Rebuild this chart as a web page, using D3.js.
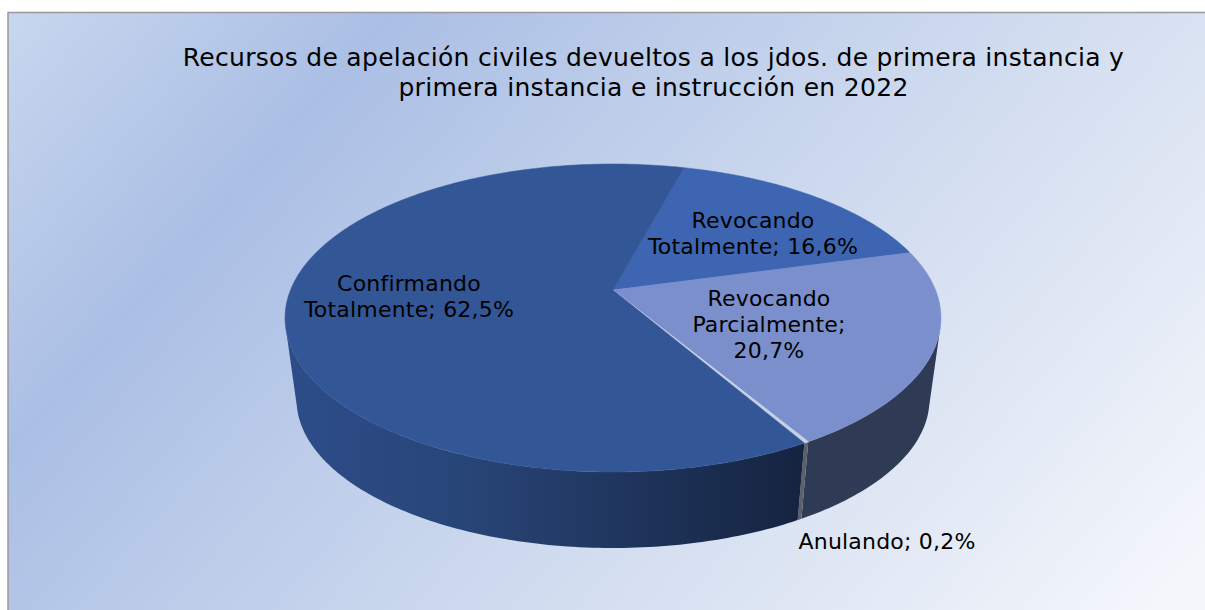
<!DOCTYPE html>
<html>
<head>
<meta charset="utf-8">
<script src="https://cdnjs.cloudflare.com/ajax/libs/d3/7.8.5/d3.min.js"></script>
<style>
  html, body { margin: 0; padding: 0; background: #fff; }
  text { font-family: "DejaVu Sans", Verdana, sans-serif; fill: #000; }
</style>
</head>
<body>
<svg id="chart" width="1205" height="610" style="display:block"></svg>
<script>
// Chart data, clockwise from the first slice
var categories = ["Revocando Totalmente", "Revocando Parcialmente", "Anulando", "Confirmando Totalmente"];
var shares = [16.6, 20.7, 0.2, 62.5];
var valueLabels = ["16,6%", "20,7%", "0,2%", "62,5%"];
var titleLines = [
  "Recursos de apelación civiles devueltos a los jdos. de primera instancia y",
  "primera instancia e instrucción en 2022"
];

var topColors = ["#3d65b1", "#7a8fcb", "#c5cfe6", "#335696"];

var svg = d3.select("#chart");
var defs = svg.append("defs");

// Background
var bg = defs.append("linearGradient").attr("id", "bg")
  .attr("gradientUnits", "userSpaceOnUse")
  .attr("x1", 130).attr("y1", -110).attr("x2", 1080).attr("y2", 720);
bg.append("stop").attr("offset", 0).attr("stop-color", "#c6d6ee");
bg.append("stop").attr("offset", 0.22).attr("stop-color", "#abbfe5");
bg.append("stop").attr("offset", 0.5).attr("stop-color", "#c6d4ec");
bg.append("stop").attr("offset", 0.8).attr("stop-color", "#e2e9f5");
bg.append("stop").attr("offset", 1).attr("stop-color", "#f5f7fc");

svg.append("rect")
  .attr("x", 8).attr("y", 12.5)
  .attr("width", 1210).attr("height", 610)
  .attr("fill", "url(#bg)")
  .attr("stroke", "#999")
  .attr("stroke-width", 1.5);

// Side wall colours
var wallLeft = defs.append("linearGradient").attr("id", "wallMain")
  .attr("gradientUnits", "userSpaceOnUse")
  .attr("x1", 285).attr("y1", 0).attr("x2", 806).attr("y2", 0);
wallLeft.append("stop").attr("offset", 0).attr("stop-color", "#2d4d8a");
wallLeft.append("stop").attr("offset", 0.35).attr("stop-color", "#284577");
wallLeft.append("stop").attr("offset", 1).attr("stop-color", "#15233f");

// Tilted-disc projection: circle angle -> screen, nearer edge drawn larger
var cx = 613, cy = 290, rad = 322.5, radY = 148.9, persp = 0.1818;
var depth = 76, shrink = 0.965;

var project = function(angle, lower) {
  var u = Math.sin(angle), v = -Math.cos(angle);
  var w = 1 - persp * v;
  var k = lower ? shrink : 1;
  return [
    cx + k * rad * u / w,
    cy + k * radY * v / w + (lower ? depth + (1 - shrink) * 182 : 0)
  ];
};

var rot = 15 * Math.PI / 180;
var pie = d3.pie().sort(null).startAngle(rot).endAngle(rot + 2 * Math.PI);
var slices = pie(shares);

var arcPoints = function(a0, a1, lower) {
  var n = Math.max(2, Math.ceil(Math.abs(a1 - a0) * 60));
  return d3.range(n + 1).map(function(i) {
    return project(a0 + (a1 - a0) * i / n, lower);
  });
};

var line = d3.line();

// Walls first, only the part facing the viewer
var wallFrom = 103 * Math.PI / 180, wallTo = 257 * Math.PI / 180;
var wallColors = [null, "#2f3a55", "#5b6069", "url(#wallMain)"];
slices.forEach(function(s, i) {
  var a0 = Math.max(s.startAngle, wallFrom), a1 = Math.min(s.endAngle, wallTo);
  if (a1 <= a0) return;
  var pts = arcPoints(a0, a1, false).concat(arcPoints(a1, a0, true));
  svg.append("path")
    .attr("d", line(pts) + "Z")
    .attr("fill", wallColors[i]);
});

// Top face
slices.forEach(function(s, i) {
  var pts = [[cx, cy]].concat(arcPoints(s.startAngle, s.endAngle, false));
  svg.append("path")
    .attr("d", line(pts) + "Z")
    .attr("fill", topColors[i])
    .attr("stroke", topColors[i])
    .attr("stroke-width", i == 2 ? 1 : 0.5);
});

// Title
svg.selectAll("text.title").data(titleLines).enter().append("text")
  .attr("class", "title")
  .attr("x", 653.5)
  .attr("y", function(d, i) { return 66 + i * 30; })
  .attr("text-anchor", "middle")
  .attr("font-size", 25)
  .attr("letter-spacing", 0.3)
  .text(function(d) { return d; });

// Data labels, wrapped the way the original wraps them
var labelLines = [
  ["Revocando", "Totalmente; " + valueLabels[0]],
  ["Revocando", "Parcialmente;", valueLabels[1]],
  [categories[2] + "; " + valueLabels[2]],
  ["Confirmando", "Totalmente; " + valueLabels[3]]
];
var labelPos = [[753, 228], [769, 306], [887, 549], [409, 291]];
labelLines.forEach(function(lines, i) {
  svg.append("text")
    .attr("x", labelPos[i][0])
    .attr("y", labelPos[i][1])
    .attr("text-anchor", "middle")
    .attr("font-size", 22)
    .attr("letter-spacing", 0.2)
    .selectAll("tspan").data(lines).enter().append("tspan")
    .attr("x", labelPos[i][0])
    .attr("dy", function(d, j) { return j ? 26 : 0; })
    .text(function(d) { return d; });
});
</script>
</body>
</html>
